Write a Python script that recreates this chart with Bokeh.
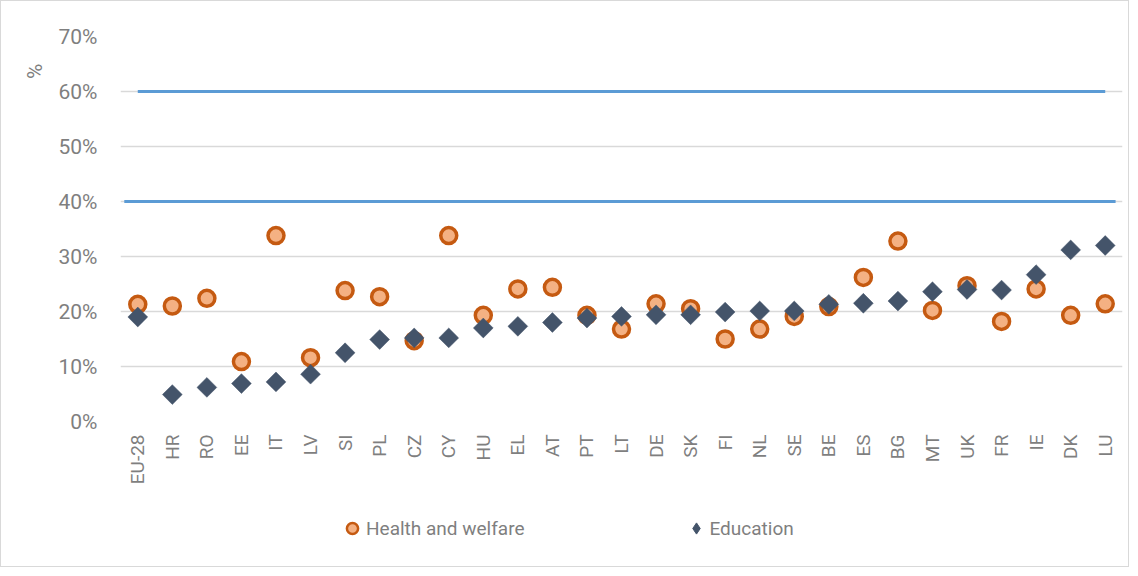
import math
import numpy as np
from bokeh.plotting import figure
from bokeh.layouts import column
from bokeh.models import Range1d, FixedTicker, Legend, LegendItem, Title
from bokeh.embed import file_html
from bokeh.resources import INLINE

countries = ["EU-28", "HR", "RO", "EE", "IT", "LV", "SI", "PL", "CZ", "CY", "HU", "EL", "AT", "PT",
             "LT", "DE", "SK", "FI", "NL", "SE", "BE", "ES", "BG", "MT", "UK", "FR", "IE", "DK", "LU"]
health_welfare = [21.3, 21.0, 22.4, 10.9, 33.8, 11.6, 23.8, 22.7, 14.7, 33.8, 19.3, 24.1, 24.4, 19.3,
                  16.8, 21.4, 20.5, 15.0, 16.8, 19.1, 20.9, 26.2, 32.8, 20.2, 24.7, 18.2, 24.1, 19.3, 21.4]
education = [19.0, 4.9, 6.2, 6.9, 7.2, 8.6, 12.5, 14.9, 15.2, 15.2, 17.0, 17.3, 18.0, 18.8,
             19.1, 19.4, 19.4, 19.9, 20.1, 20.1, 21.3, 21.5, 21.9, 23.6, 24.0, 23.9, 26.7, 31.2, 32.0]
target_60 = 60
target_40 = 40
y_ticks = [0, 10, 20, 30, 40, 50, 60, 70]

FONT = "Roboto"
GREY = "#7f7f7f"
BORDER = "1px solid #d9d9d9"

xs = list(range(len(countries)))

p = figure(width=1129, height=490, output_backend="svg", toolbar_location=None,
           x_range=Range1d(-0.5, len(countries) - 0.5), y_range=Range1d(0, 70),
           min_border_left=119, min_border_right=8, min_border_top=35, min_border_bottom=70)
p.styles = {"border-top": BORDER, "border-left": BORDER, "border-right": BORDER}
p.outline_line_color = None

# target lines
p.line([0, len(countries) - 1], [target_60, target_60], line_color="#5B9BD5", line_width=3)
p.line([-0.39, len(countries) - 1 + 0.3], [target_40, target_40], line_color="#5B9BD5", line_width=3)

r_h = p.scatter(xs, health_welfare, marker="circle", size=16, fill_color="#F4B183",
                line_color="#C55A11", line_width=3.5)
r_e = p.scatter(xs, education, marker="square", angle=math.pi / 4, size=14,
                fill_color="#44546A", line_color="#44546A", line_width=0.5)

# axes
p.xaxis.ticker = FixedTicker(ticks=xs)
p.xaxis.major_label_overrides = {i: c for i, c in enumerate(countries)}
p.xaxis.major_label_orientation = math.pi / 2
p.yaxis.ticker = FixedTicker(ticks=y_ticks)
p.yaxis.major_label_overrides = {t: f"{t}%" for t in y_ticks}
for ax in (p.xaxis, p.yaxis):
    ax.axis_line_color = None
    ax.major_tick_line_color = None
    ax.minor_tick_line_color = None
    ax.major_label_text_font = FONT
    ax.major_label_text_color = GREY
p.xaxis.major_label_text_font_size = "19px"
p.yaxis.major_label_text_font_size = "21px"
p.xaxis.major_label_standoff = 7
p.yaxis.major_label_standoff = 17

p.xgrid.grid_line_color = None
p.ygrid.ticker = FixedTicker(ticks=y_ticks)
p.ygrid.grid_line_color = "#d9d9d9"
p.ygrid.grid_line_width = 1.5

# "%" unit label at the top of the value axis
p.add_layout(Title(text="%", align="right", offset=27, standoff=17,
                   text_font=FONT, text_font_size="21px", text_color=GREY,
                   text_font_style="normal"), "left")

# legend strip under the chart (key renderers sit outside the strip's view)
leg = figure(width=1129, height=77, output_backend="svg", toolbar_location=None,
             x_range=Range1d(0, 1), y_range=Range1d(0, 1),
             min_border_left=0, min_border_right=0, min_border_top=0, min_border_bottom=0)
leg.styles = {"border-bottom": BORDER, "border-left": BORDER, "border-right": BORDER}
leg.outline_line_color = None
leg.axis.visible = False
leg.grid.visible = False
k_h = leg.scatter(x=[xs[0]], y=[health_welfare[0]], marker="circle", size=12,
                  fill_color="#F4B183", line_color="#C55A11", line_width=2.5)
k_e = leg.scatter(x=[xs[0]], y=[education[0]], marker="diamond", size=12,
                  fill_color="#44546A", line_color="#44546A", line_width=1)
legend = Legend(items=[LegendItem(label="Health and welfare", renderers=[k_h]),
                       LegendItem(label="Education", renderers=[k_e])],
                orientation="horizontal", location=(218, 24),
                border_line_color=None, background_fill_alpha=0,
                padding=0, margin=0, spacing=157, glyph_width=28, glyph_height=30,
                label_height=20, label_standoff=0,
                label_text_font=FONT, label_text_font_size="19px", label_text_color=GREY)
leg.add_layout(legend)

layout = column(p, leg, spacing=0)
open("out.html", "w").write(file_html(layout, INLINE))
